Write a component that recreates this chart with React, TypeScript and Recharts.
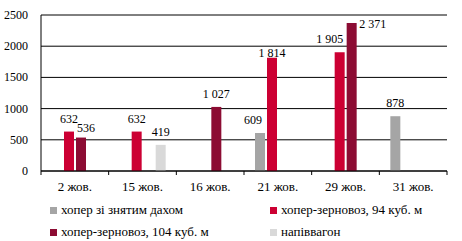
import React from 'react';
import { BarChart, Bar, XAxis, YAxis, CartesianGrid, Legend, LabelList } from 'recharts';

// дати відвантаження
const dates = ['2 жов.', '15 жов.', '16 жов.', '21 жов.', '29 жов.', '31 жов.'];

// кількість вагонів по типах (null - немає даних)
const hopperNoRoof = [null, null, null, 609, null, 878];
const grain94 = [632, 632, null, 1814, 1905, null];
const grain104 = [536, null, 1027, null, 2371, null];
const gondola = [null, 419, null, null, null, null];

const yTicks = [0, 500, 1000, 1500, 2000, 2500];

const SERIES = [
  { key: 'noRoof', name: 'хопер зі знятим дахом', color: '#A5A5A5', values: hopperNoRoof },
  { key: 'g94', name: 'хопер-зерновоз, 94 куб. м', color: '#CC0033', values: grain94 },
  { key: 'g104', name: 'хопер-зерновоз, 104 куб. м', color: '#8C0C33', values: grain104 },
  { key: 'gondola', name: 'напіввагон', color: '#D9D9D9', values: gondola },
];

const data = dates.map((d, i) => {
  const row: any = { date: d };
  SERIES.forEach((s) => {
    row[s.key] = s.values[i];
  });
  return row;
});

const FONT = "'Liberation Serif', 'Times New Roman', 'DejaVu Serif', serif";

// ручні зсуви підписів, як у вихідній діаграмі
const labelShift: Record<string, { dx: number; dy: number }> = {
  'noRoof-3': { dx: -7, dy: 0 },
  'g94-3': { dx: 0, dy: 8 },
  'g94-4': { dx: -10, dy: 0 },
  'g104-0': { dx: 5, dy: 3 },
  'g104-4': { dx: 21, dy: 14 },
};

const fmt = (v: number) => String(v).replace(/\B(?=(\d{3})+(?!\d))/g, ' ');

const makeLabel = (key: string, values: (number | null)[]) => (props: any) => {
  const { x, y, width, value } = props;
  if (value == null) return null;
  const idx = typeof props.index === 'number' && values[props.index] === value ? props.index : values.indexOf(value);
  const s = labelShift[`${key}-${idx}`] || { dx: 0, dy: 0 };
  return (
    <text
      x={x + width / 2 + s.dx}
      y={y - 9 + s.dy}
      textAnchor="middle"
      style={{ fontSize: 12, fontFamily: FONT }}
      fill="#000"
    >
      {fmt(value)}
    </text>
  );
};

const XTick = (props: any) => {
  const { x, y, payload, index, visibleTicksCount } = props;
  const half = payload && payload.offset ? payload.offset : 67.8 / 2;
  const top = y - 8;
  return (
    <g>
      <line x1={x - half} x2={x - half} y1={top} y2={top + 4} stroke="#000" />
      {index === (visibleTicksCount || dates.length) - 1 && (
        <line x1={x + half} x2={x + half} y1={top} y2={top + 4} stroke="#000" />
      )}
      <text x={x} y={top + 20} textAnchor="middle" style={{ fontSize: 13, fontFamily: FONT }} fill="#000">
        {payload.value}
      </text>
    </g>
  );
};

const renderLegend = () => {
  const pos = [
    { left: 50, top: 13 },
    { left: 270, top: 13 },
    { left: 50, top: 35 },
    { left: 270, top: 35 },
  ];
  return (
    <div style={{ position: 'relative', width: 462, height: 51, fontFamily: FONT, fontSize: 13, color: '#000' }}>
      {SERIES.map((s, i) => (
        <div
          key={s.key}
          style={{ position: 'absolute', left: pos[i].left, top: pos[i].top, display: 'flex', alignItems: 'center', whiteSpace: 'nowrap', lineHeight: '14px' }}
        >
          <span style={{ display: 'inline-block', width: 7, height: 7, background: s.color, marginRight: 4 }} />
          <span>{s.name}</span>
        </div>
      ))}
    </div>
  );
};

const YTick = (props: any) => {
  const { x, y, payload } = props;
  return (
    <text x={x} y={y + 4} textAnchor="end" style={{ fontSize: 12, fontFamily: FONT }} fill="#000">
      {payload.value}
    </text>
  );
};

export default function App() {
  return (
    <div style={{ position: 'absolute', left: 0, top: 0, width: 462, height: 241, background: '#fff' }}>
      <BarChart
        width={462}
        height={241}
        data={data}
        margin={{ top: 15, right: 15, left: 0, bottom: 0 }}
        barSize={10}
        barGap={2}
      >
        <CartesianGrid vertical={false} stroke="#000" strokeWidth={1} />
        <XAxis
          dataKey="date"
          tickLine={false}
          axisLine={{ stroke: '#000' }}
          height={19}
          tick={<XTick />}
          interval={0}
        />
        <YAxis
          domain={[0, 2500]}
          ticks={yTicks}
          tickLine={false}
          axisLine={{ stroke: '#000' }}
          width={41}
          tickMargin={7}
          tick={<YTick />}
        />
        <Legend
          verticalAlign="bottom"
          content={renderLegend}
          wrapperStyle={{ left: 0, width: 462, height: 51 }}
        />
        {SERIES.map((s) => (
          <Bar key={s.key} dataKey={s.key} name={s.name} fill={s.color} isAnimationActive={false}>
            <LabelList dataKey={s.key} content={makeLabel(s.key, s.values)} />
          </Bar>
        ))}
      </BarChart>
    </div>
  );
}
